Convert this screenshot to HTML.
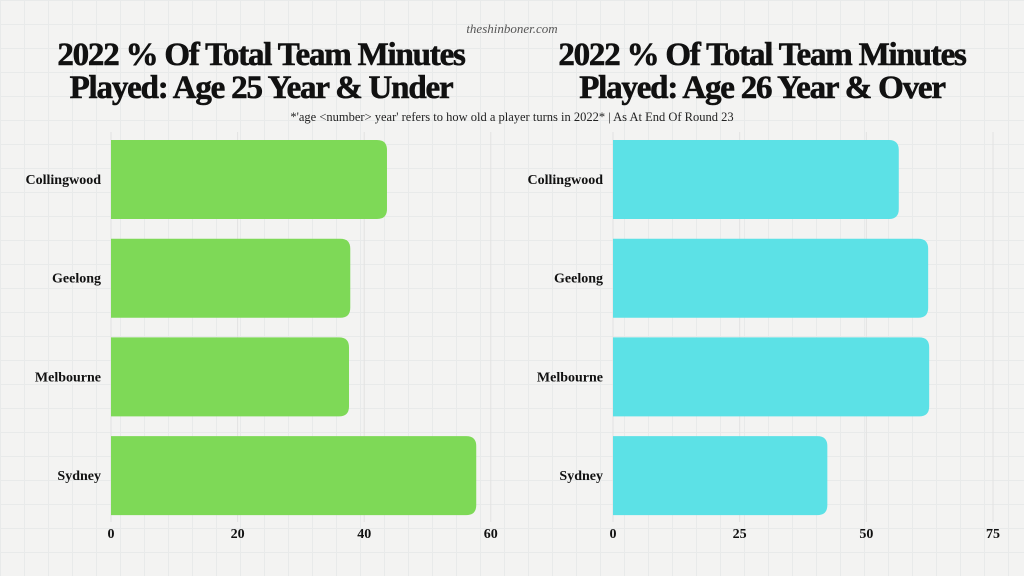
<!DOCTYPE html>
<html><head><meta charset="utf-8"><style>
body{margin:0;width:1024px;height:576px;overflow:hidden;background:#f3f3f2;font-family:"Liberation Serif",serif;}
#bg{position:absolute;left:0;top:0;width:1024px;height:576px;
background-image:linear-gradient(#e8eaea 1px,transparent 1px),linear-gradient(90deg,#e8eaea 1px,transparent 1px);background-size:24px 24px;}
svg{position:absolute;left:0;top:0}
.t{font-weight:bold;font-size:33px;letter-spacing:-1.2px;fill:#111;stroke:#111;stroke-width:0.6px}
.lab{font-weight:bold;font-size:14px;fill:#111}
</style></head><body>
<div id="bg"></div>
<svg id="c" width="1024" height="576">
<text x="512" y="33" text-anchor="middle" font-style="italic" font-size="13" fill="#555">theshinboner.com</text>
<text class="t" x="261" y="65" text-anchor="middle">2022 % Of Total Team Minutes</text>
<text class="t" x="261" y="98" text-anchor="middle">Played: Age 25 Year &amp; Under</text>
<text class="t" x="762" y="65" text-anchor="middle">2022 % Of Total Team Minutes</text>
<text class="t" x="762" y="98" text-anchor="middle">Played: Age 26 Year &amp; Over</text>
<text x="512" y="121" text-anchor="middle" font-size="12.5" fill="#222">*'age &lt;number&gt; year' refers to how old a player turns in 2022* | As At End Of Round 23</text>
</svg>
<script>
const teams=["Collingwood","Geelong","Melbourne","Sydney"];
const under25=[43.6,37.8,37.6,57.7];
const over26=[56.4,62.2,62.4,42.3];
const leftTicks=[0,20,40,60];
const rightTicks=[0,25,50,75];
const svg=document.getElementById('c');const NS='http://www.w3.org/2000/svg';
function mk(t,a){const e=document.createElementNS(NS,t);for(const k in a)e.setAttribute(k,a[k]);svg.appendChild(e);return e;}
function barPath(x0,x1,y,h,r){r=Math.min(r,(x1-x0));return `M${x0},${y}H${x1-r}Q${x1},${y} ${x1},${y+r}V${y+h-r}Q${x1},${y+h} ${x1-r},${y+h}H${x0}Z`;}
function chart(x0,pxPerUnit,ticks,vals,color,side){
  const xs=v=>x0+v*pxPerUnit;
  const ys=i=>140+i*98.7;
  ticks.forEach(t=>{
    const g=mk('line',{x1:xs(t),x2:xs(t),y1:132,y2:522,stroke:'#e2e2e2','stroke-width':1});
    
    
    const tx=mk('text',{x:xs(t),y:538,'text-anchor':'middle','font-weight':'bold','font-size':14,fill:'#111'});
    tx.textContent=t;
    
    
  });
  vals.forEach((v,i)=>{
    const b=mk('path',{d:barPath(x0,xs(v),ys(i),79,10),fill:color});
    
    
    const l=mk('text',{x:x0-10,y:ys(i)+44,'text-anchor':'end',class:'lab'});
    l.textContent=teams[i];
    
    
  });
}
chart(111,6.33,leftTicks,under25,'#7ed957','left');
chart(613,5.067,rightTicks,over26,'#5ce1e6','right');
</script>
</body></html>
